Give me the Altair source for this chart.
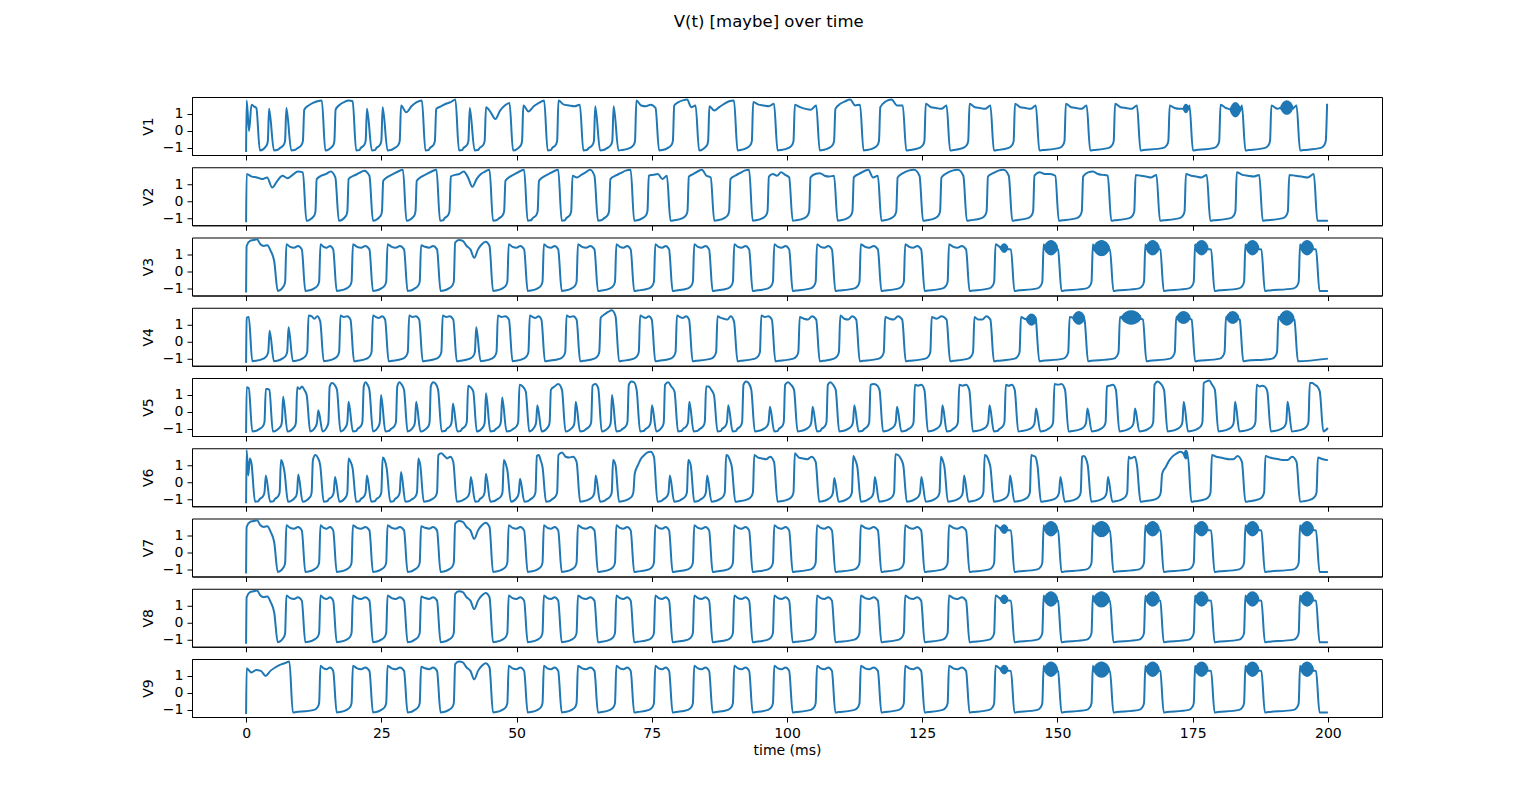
import altair as alt
import pandas as pd
import math

# ---------- data (times in ms, levels in V units) ----------
# each spike: (upstroke time, downstroke time, plateau levels from start to end)
V1 = [(0.0, 2.2, [1.8, 0.0, 1.55, 1.45, 1.35]), (4.1, 4.8, [1.3]), (7.3, 8.0, [1.35]),
      (10.6, 14.3, [1.25, 1.5, 1.65, 1.75, 1.8]), (16.4, 20.0, [1.25, 1.55, 1.7, 1.8, 1.75]),
      (22.2, 22.9, [1.3]), (25.1, 25.8, [1.4]), (28.5, 32.8, [1.5, 1.1, 1.45, 1.7, 1.8]),
      (35.0, 39.0, [1.3, 1.45, 1.6, 1.7, 1.85]), (41.2, 41.9, [1.35]),
      (44.2, 49.0, [1.4, 1.1, 0.7, 1.2, 1.5, 1.65]), (51.1, 55.4, [1.5, 1.15, 1.45, 1.65, 1.8]),
      (57.6, 62.0, [1.8, 1.55, 1.5, 1.45, 1.55]), (64.4, 65.1, [1.45]), (67.8, 68.5, [1.45]),
      (72.0, 76.0, [1.8, 1.5, 1.45, 1.55, 1.35]), (79.0, 83.4, [1.5, 1.7, 1.8, 1.85, 1.4, 1.5]),
      (85.5, 90.5, [1.45, 1.2, 1.4, 1.6, 1.75, 1.8]), (93.6, 97.9, [1.7, 1.55, 1.5, 1.45, 1.6]),
      (101.3, 105.7, [1.55, 1.4, 1.3, 1.25, 1.5]), (108.8, 113.8, [1.3, 1.6, 1.75, 1.85, 1.5, 1.55]),
      (117.1, 121.7, [1.4, 1.75, 1.85, 1.5, 1.5]), (125.5, 129.8, [1.6, 1.4, 1.35, 1.3, 1.5]),
      (133.6, 137.9, [1.6, 1.4, 1.35, 1.3, 1.5]), (142.0, 146.3, [1.6, 1.4, 1.35, 1.3, 1.5]),
      (151.4, 155.7, [1.6, 1.4, 1.35, 1.3, 1.5]), (160.5, 165.0, [1.6, 1.4, 1.35, 1.3, 1.5]),
      (170.6, 174.7, [1.5, 1.35, 1.3, 1.25, 1.5]), (180.0, 184.4, [1.55, 1.35, 1.3, 1.3, 1.5]),
      (189.4, 194.5, [1.5, 1.3, 1.3, 1.3, 1.5]), (199.7, 200.0, [1.6])]
V1_BLOBS = [(173.3, 174.2, 1.1, 1.55), (182.0, 183.8, 0.85, 1.65), (191.3, 193.5, 1.0, 1.75)]
V1_END = 1.6

V2 = [(0.0, 10.8, [1.6, 1.45, 1.4, 1.3, 1.4, 0.8, 1.2, 1.5, 1.35, 1.55, 1.75, 1.7]),
      (12.9, 16.8, [1.3, 1.5, 1.6, 1.75, 1.4]), (18.8, 23.1, [1.3, 1.5, 1.65, 1.8, 1.5]),
      (25.2, 29.3, [1.2, 1.45, 1.6, 1.75, 1.85]), (31.4, 35.5, [1.2, 1.45, 1.6, 1.75, 1.85]),
      (37.7, 45.3, [1.45, 1.55, 1.6, 1.75, 1.4, 0.85, 1.3, 1.6, 1.75, 1.85]),
      (47.8, 51.7, [1.2, 1.45, 1.6, 1.75, 1.85]), (54.0, 58.0, [1.2, 1.45, 1.6, 1.75, 1.85]),
      (60.2, 64.7, [1.5, 1.4, 1.55, 1.7, 1.85, 1.5]), (67.2, 71.4, [1.3, 1.5, 1.65, 1.8, 1.85]),
      (74.3, 78.1, [1.5, 1.55, 1.6, 1.3, 1.5]), (81.7, 86.2, [1.45, 1.6, 1.75, 1.85, 1.5, 1.4]),
      (89.4, 93.3, [1.3, 1.5, 1.65, 1.8, 1.85]), (96.5, 100.7, [1.45, 1.6, 1.5, 1.7, 1.55, 1.4]),
      (104.2, 109.0, [1.4, 1.6, 1.65, 1.5, 1.45, 1.5]), (112.2, 117.1, [1.4, 1.6, 1.75, 1.85, 1.4, 1.5]),
      (120.3, 124.8, [1.4, 1.65, 1.8, 1.85, 1.5]), (128.4, 132.9, [1.4, 1.65, 1.8, 1.85, 1.5]),
      (137.0, 141.3, [1.45, 1.65, 1.8, 1.85, 1.5]), (145.6, 149.9, [1.5, 1.7, 1.6, 1.6, 1.5]),
      (154.6, 159.6, [1.45, 1.7, 1.75, 1.6, 1.55, 1.5]), (164.3, 168.6, [1.55, 1.5, 1.45, 1.4, 1.55]),
      (173.6, 177.9, [1.6, 1.5, 1.45, 1.4, 1.55]), (183.0, 187.6, [1.7, 1.55, 1.5, 1.45, 1.55]),
      (192.7, 197.7, [1.55, 1.5, 1.45, 1.4, 1.6])]
V2_BLOBS = []
V2_END = -1.15

V3 = [(0.0, 5.5, [1.5, 1.8, 1.85, 1.9, 1.6, 1.5, 1.55, 1.2, 0.6]),
      (7.3, 10.6, [1.6, 1.45, 1.4, 1.5, 1.3]), (13.6, 16.4, [1.6, 1.45, 1.4, 1.5, 1.3]),
      (19.6, 23.1, [1.6, 1.45, 1.4, 1.5, 1.3]), (26.0, 29.5, [1.6, 1.45, 1.4, 1.5, 1.3]),
      (32.2, 35.6, [1.55, 1.45, 1.4, 1.5, 1.3]),
      (38.5, 45.3, [1.7, 1.85, 1.8, 1.5, 1.3, 0.8, 1.3, 1.6, 1.75, 1.5]),
      (48.4, 51.7, [1.6, 1.45, 1.4, 1.5, 1.3]), (54.9, 58.0, [1.6, 1.45, 1.4, 1.5, 1.3]),
      (61.2, 64.7, [1.6, 1.45, 1.4, 1.5, 1.3]), (68.3, 71.4, [1.6, 1.45, 1.4, 1.5, 1.3]),
      (75.5, 78.5, [1.6, 1.45, 1.4, 1.5, 1.3]), (82.7, 85.9, [1.6, 1.45, 1.4, 1.5, 1.3]),
      (90.1, 93.3, [1.6, 1.45, 1.4, 1.5, 1.3]), (97.5, 100.7, [1.6, 1.45, 1.4, 1.5, 1.3]),
      (105.4, 108.6, [1.6, 1.45, 1.4, 1.5, 1.3]), (113.5, 117.1, [1.6, 1.45, 1.4, 1.5, 1.3]),
      (121.7, 125.1, [1.6, 1.45, 1.4, 1.5, 1.3]), (129.8, 133.4, [1.6, 1.45, 1.4, 1.5, 1.3]),
      (138.4, 141.7, [1.6, 1.45, 1.4, 1.5, 1.3]), (147.3, 150.4, [1.6, 1.45, 1.4, 1.5, 1.3]),
      (156.4, 160.0, [1.6, 1.45, 1.4, 1.5, 1.3]), (166.1, 169.3, [1.6, 1.45, 1.4, 1.5, 1.3]),
      (175.3, 178.7, [1.6, 1.45, 1.4, 1.5, 1.3]), (184.6, 188.0, [1.6, 1.45, 1.4, 1.5, 1.3]),
      (194.7, 198.1, [1.6, 1.45, 1.4, 1.5, 1.3])]
V3_BLOBS = [(139.5, 140.8, 1.15, 1.6), (147.6, 150.0, 1.0, 1.8), (156.7, 159.6, 0.95, 1.8),
            (166.4, 168.8, 1.0, 1.8), (175.5, 177.8, 1.0, 1.8), (184.9, 187.2, 1.0, 1.8),
            (195.0, 197.3, 1.0, 1.8)]
V3_END = -1.15

V4 = [(0.0, 0.8, [1.4, 1.45]), (4.2, 4.8, [0.65]), (7.7, 8.3, [0.85]),
      (11.4, 14.0, [1.55, 1.5, 1.35, 1.5, 1.2]), (17.3, 19.6, [1.55, 1.45, 1.5, 1.3]),
      (23.3, 26.0, [1.55, 1.45, 1.4, 1.5, 1.3]), (30.0, 32.3, [1.55, 1.45, 1.5, 1.3]),
      (36.2, 38.6, [1.55, 1.45, 1.5, 1.3]), (42.4, 43.0, [0.85]),
      (46.4, 48.9, [1.55, 1.45, 1.5, 1.3]), (52.3, 54.9, [1.55, 1.45, 1.4, 1.5, 1.3]),
      (59.1, 61.4, [1.55, 1.45, 1.5, 1.3]), (65.4, 68.6, [1.4, 1.6, 1.75, 1.85, 1.5]),
      (72.7, 75.3, [1.55, 1.45, 1.4, 1.5, 1.3]), (79.5, 82.2, [1.55, 1.45, 1.4, 1.5, 1.3]),
      (87.0, 90.5, [1.5, 1.4, 1.35, 1.3, 1.5, 1.2]), (95.1, 97.5, [1.55, 1.45, 1.5, 1.3]),
      (102.2, 105.7, [1.45, 1.35, 1.3, 1.5, 1.3]), (109.7, 113.1, [1.55, 1.35, 1.3, 1.5, 1.3]),
      (118.0, 121.6, [1.45, 1.35, 1.3, 1.5, 1.3]), (126.6, 129.8, [1.45, 1.35, 1.5, 1.3]),
      (134.5, 137.9, [1.45, 1.3, 1.3, 1.5, 1.3]), (143.1, 146.3, [1.45, 1.35, 1.3, 1.5, 1.3]),
      (152.1, 155.3, [1.45, 1.35, 1.3, 1.5, 1.3]), (161.4, 166.1, [1.45, 1.35, 1.3, 1.5, 1.3]),
      (171.8, 175.1, [1.45, 1.35, 1.3, 1.5, 1.3]), (181.0, 184.0, [1.45, 1.35, 1.3, 1.5, 1.3]),
      (190.7, 194.1, [1.45, 1.35, 1.3, 1.5, 1.3])]
V4_BLOBS = [(144.3, 146.1, 1.0, 1.6), (152.9, 155.0, 1.05, 1.75), (161.9, 165.4, 1.05, 1.8),
            (172.1, 174.5, 1.1, 1.75), (181.3, 183.5, 1.1, 1.75), (191.1, 193.7, 1.0, 1.8)]
V4_END = -1.0

V5 = [(0.0, 0.8, [1.45, 1.4]), (3.5, 4.6, [1.35, 1.35, 1.3]), (6.7, 7.3, [0.9]),
      (9.3, 11.5, [1.45, 1.35, 1.5, 1.3, 1.0]), (13.2, 13.8, [0.1]), (15.3, 17.1, [1.5, 1.7, 1.6, 1.3]),
      (18.8, 19.4, [0.6]), (21.6, 23.1, [1.5, 1.75, 1.6, 1.3]), (24.8, 25.4, [1.0]),
      (27.8, 29.5, [1.5, 1.75, 1.6, 1.3]), (31.3, 31.9, [0.6]), (34.0, 35.8, [1.5, 1.75, 1.65, 1.3]),
      (38.1, 38.7, [0.5]), (40.9, 42.3, [1.55, 1.45, 1.2]), (44.2, 44.8, [1.1]), (47.2, 47.8, [0.85]),
      (50.4, 52.0, [1.6, 1.5, 1.2]), (53.7, 54.3, [0.4]), (56.2, 58.7, [1.3, 1.5, 1.65, 1.3]),
      (60.8, 61.4, [0.6]), (63.9, 65.4, [1.55, 1.65, 1.4]), (67.5, 68.1, [1.0]),
      (70.6, 72.5, [1.6, 1.8, 1.75, 1.3]), (74.9, 75.5, [0.4]), (77.3, 79.5, [1.6, 1.75, 1.5, 1.2]),
      (81.8, 82.4, [0.6]), (84.9, 86.8, [1.5, 1.5, 1.3, 1.0]), (89.0, 89.6, [0.4]),
      (91.8, 93.7, [1.6, 1.8, 1.7, 1.3]), (96.7, 97.3, [0.3]), (99.5, 101.6, [1.6, 1.75, 1.6, 1.3]),
      (104.6, 105.2, [0.3]), (107.4, 109.3, [1.6, 1.75, 1.6, 1.3]), (112.3, 112.9, [0.4]),
      (115.3, 117.4, [1.6, 1.65, 1.6, 1.3]), (120.2, 120.8, [0.3]), (123.5, 125.7, [1.6, 1.55, 1.6, 1.3]),
      (128.6, 129.2, [0.4]), (131.7, 134.0, [1.6, 1.55, 1.6, 1.3]), (137.3, 137.9, [0.4]),
      (140.3, 142.4, [1.6, 1.55, 1.6, 1.3]), (145.9, 146.5, [0.2]), (149.3, 151.7, [1.65, 1.6, 1.65, 1.3]),
      (155.4, 156.0, [0.2]), (159.0, 161.1, [1.5, 1.55, 1.6, 1.3]), (164.2, 164.8, [0.2]),
      (167.8, 170.0, [1.6, 1.8, 1.65, 1.3]), (173.2, 173.8, [0.6]), (176.9, 179.4, [1.7, 1.8, 1.85, 1.6, 1.3]),
      (182.7, 183.3, [0.6]), (186.7, 189.1, [1.6, 1.5, 1.55, 1.5, 1.2]), (192.4, 193.0, [0.6]),
      (196.5, 198.8, [1.7, 1.7, 1.6, 1.5, 1.2])]
V5_BLOBS = []
V5_END = -0.95

V6 = [(0.0, 1.3, [1.9, 0.4, 1.4, 1.1]), (3.5, 4.1, [0.4]), (6.3, 7.4, [1.3, 1.1, 0.6]),
      (9.5, 10.1, [0.45]), (12.2, 14.0, [1.3, 1.6, 1.45, 1.0]), (16.3, 16.9, [0.3]),
      (18.8, 20.0, [1.4, 1.2, 0.8]), (22.2, 22.8, [0.4]), (25.1, 26.3, [1.45, 1.3, 0.8]),
      (28.5, 29.1, [0.6]), (31.7, 32.5, [1.4, 1.0]), (35.4, 38.6, [1.6, 1.7, 1.55, 1.4, 1.5, 1.2]),
      (41.4, 42.0, [0.3]), (44.2, 44.8, [0.5]), (47.5, 48.6, [1.3, 1.1, 0.7]), (50.5, 51.1, [0.2]),
      (53.6, 55.1, [1.55, 1.6, 1.3, 0.9]), (57.6, 61.4, [1.6, 1.75, 1.5, 1.45, 1.5, 1.2]),
      (64.5, 65.1, [0.4]), (67.7, 68.6, [1.3, 1.0]), (71.7, 75.7, [0.5, 1.0, 1.4, 1.6, 1.75, 1.8, 1.5]),
      (78.2, 78.8, [0.4]), (81.6, 82.5, [1.3, 1.0]), (85.1, 85.7, [0.4]), (88.6, 90.1, [1.6, 1.55, 1.3, 0.9]),
      (93.8, 97.9, [1.6, 1.45, 1.4, 1.35, 1.5, 1.2]), (101.3, 105.6, [1.7, 1.45, 1.4, 1.35, 1.5, 1.2]),
      (108.6, 109.2, [0.25]), (112.1, 113.3, [1.55, 1.3, 0.9]), (116.1, 116.7, [0.3]),
      (119.9, 121.8, [1.65, 1.6, 1.4, 1.0]), (124.7, 125.3, [0.3]), (128.3, 129.4, [1.5, 1.3, 0.9]),
      (132.6, 133.2, [0.4]), (136.4, 137.9, [1.6, 1.55, 1.3, 0.9]), (141.1, 141.7, [0.4]),
      (145.0, 146.6, [1.6, 1.55, 1.5, 1.0]), (150.4, 151.0, [0.3]), (154.4, 155.9, [1.5, 1.55, 1.4, 1.0]),
      (159.2, 159.8, [0.3]), (163.0, 165.0, [1.5, 1.4, 1.45, 1.5, 1.0]),
      (169.2, 174.4, [0.5, 0.9, 1.3, 1.55, 1.7, 1.8, 1.9, 1.6]),
      (178.4, 184.4, [1.6, 1.5, 1.45, 1.4, 1.35, 1.35, 1.55, 1.2]),
      (188.3, 194.5, [1.55, 1.45, 1.4, 1.35, 1.3, 1.3, 1.5, 1.2]), (198.0, 200.0, [1.45, 1.35, 1.3])]
V6_BLOBS = [(173.4, 174.1, 1.4, 1.85)]
V6_END = 1.3

# V7 and V8 follow V3 closely in the reference
V7 = V3
V7_BLOBS = V3_BLOBS
V7_END = -1.15
V8 = V3
V8_BLOBS = V3_BLOBS
V8_END = -1.15
V9 = [(0.0, 8.3, [1.45, 1.2, 1.35, 1.3, 1.0, 1.3, 1.5, 1.65, 1.75, 1.85])] + V3[2:]
V9_BLOBS = V3_BLOBS
V9_END = -1.15

PANELS = ["V1", "V2", "V3", "V4", "V5", "V6", "V7", "V8", "V9"]
SPIKES = [V1, V2, V3, V4, V5, V6, V7, V8, V9]
BLOBS = [V1_BLOBS, V2_BLOBS, V3_BLOBS, V4_BLOBS, V5_BLOBS, V6_BLOBS, V7_BLOBS, V8_BLOBS, V9_BLOBS]
ENDS = [V1_END, V2_END, V3_END, V4_END, V5_END, V6_END, V7_END, V8_END, V9_END]
START_V = -1.25
TROUGH = -1.15
T_END = 200.0
BLOB_STEP = 0.05


def trace(spikes, blobs, end_v):
    pts = [(0.0, START_V)]
    last = None
    for (u, d, lv) in spikes:
        if last is not None:
            gap = u - last
            if gap > 1.8:
                pts.append((last + 0.6, TROUGH + 0.02))
                pts.append((u - 1.0, TROUGH + 0.15))
                pts.append((u - 0.4, TROUGH + 0.3))
                pts.append((u - 0.1, -0.6))
            else:
                pts.append((u - 0.3, TROUGH + 0.3))
                pts.append((u - 0.08, -0.6))
        n = len(lv)
        t0 = u + 0.15 if u > 0 else 0.1
        t1 = d - 0.3 if n > 1 else t0
        if d >= T_END:
            t1 = T_END
        for k, val in enumerate(lv):
            tk = t0 + (t1 - t0) * k / (n - 1) if n > 1 else t0
            pts.append((tk, val))
        if d >= T_END:
            last = None
            break
        pts.append((d + 0.35, TROUGH))
        last = d + 0.35
    if last is not None:
        pts.append((T_END, end_v))
    for (s, e, lo, hi) in blobs:
        pts = [p for p in pts if not (s < p[0] < e)]
        c = (lo + hi) / 2.0
        a = (hi - lo) / 2.0
        t = s
        k = 0
        while t < e:
            env = math.sin(math.pi * (t - s) / (e - s)) ** 0.6
            pts.append((t, c + (a if k % 2 == 0 else -a) * env))
            t += BLOB_STEP
            k += 1
    pts.sort(key=lambda p: p[0])
    return pts


rows = []
for name, sp, bl, ev in zip(PANELS, SPIKES, BLOBS, ENDS):
    for i, (t, v) in enumerate(trace(sp, bl, ev)):
        rows.append({"panel": name, "i": i, "t": t, "v": v})
df = pd.DataFrame(rows)

FONT = "DejaVu Sans"
charts = []
for idx, name in enumerate(PANELS):
    last_panel = idx == len(PANELS) - 1
    xaxis = alt.Axis(values=[0, 25, 50, 75, 100, 125, 150, 175, 200], grid=False,
                     tickSize=5, labelPadding=4, labelFontSize=14, labelColor="black",
                     labels=last_panel,
                     tickColor="black", domainColor="black", labelFont=FONT,
                     title="time (ms)" if last_panel else None,
                     titleFont=FONT, titleFontSize=14, titleFontWeight="normal", titlePadding=3)
    c = alt.Chart(df).transform_filter(alt.datum.panel == name).mark_line(
        color="#1f77b4", strokeWidth=2, clip=True, interpolate="monotone"
    ).encode(
        x=alt.X("t:Q", scale=alt.Scale(domain=[-10, 210], nice=False, zero=False), axis=xaxis),
        y=alt.Y("v:Q", scale=alt.Scale(domain=[-1.42, 2.0], nice=False, zero=False),
                axis=alt.Axis(values=[-1, 0, 1], grid=False, tickSize=5, labelPadding=4,
                              labelFontSize=14, labelFont=FONT, labelColor="black",
                              tickColor="black", domainColor="black", title=name,
                              titleFont=FONT, titleFontSize=14, titleFontWeight="normal",
                              titlePadding=7)),
        order="i:Q",
    ).properties(width=1190, height=58,
                 view=alt.ViewBackground(stroke="#000000", strokeWidth=1, fill="white"))
    charts.append(c)

chart = alt.vconcat(*charts, spacing=12.25, bounds="flush").properties(
    title=alt.TitleParams("V(t) [maybe] over time", font=FONT, fontSize=16.5, fontWeight="normal",
                          anchor="middle", dx=7, offset=66),
    padding={"left": 140, "top": 14, "right": 5, "bottom": 5},
).configure_view(stroke="#000000", strokeWidth=1, fill="white").configure(background="white")

chart.save("out.html", embed_options={"renderer": "svg", "actions": False})
